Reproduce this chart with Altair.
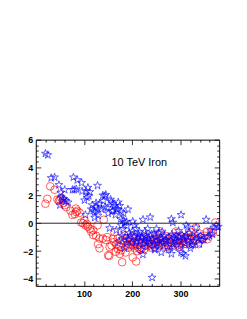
import altair as alt
import pandas as pd

# Blue stars
blue_x = [20, 25, 32, 39, 48, 60, 52, 53, 56, 50, 63, 67, 58,
          76, 80, 84, 78, 86, 95, 96, 104, 108, 112, 101, 106, 110, 128,
          115, 119, 122, 125, 129, 122, 129, 132, 125, 103, 117,
          139, 143, 145, 140, 136, 143, 155, 160, 163, 160, 167, 170, 174, 177, 191, 150, 158,
          181, 184, 188, 153, 167, 177, 181, 201, 205, 222, 237, 208, 215, 232, 250, 281, 284,
          301, 312, 315, 332, 353, 370, 374, 362,
          184, 222, 246, 260, 281, 301, 305, 310, 322, 339, 241,
          192, 196, 199, 203, 206, 210, 213, 216, 219, 222, 225, 228, 231, 234, 237, 240,
          243, 246, 249, 252, 255, 258, 261, 264, 267, 270, 273, 276, 279, 282, 285, 288,
          291, 294, 297, 300, 303, 306, 309, 312, 316, 320, 324, 328, 333, 337, 342, 348,
          356, 366, 200, 218, 226, 247, 262, 275, 296, 318, 185, 188, 178, 172,
          148, 156, 165, 171, 176, 182, 189, 194, 209, 214, 229, 236, 244, 253, 268, 287,
          307, 326, 344, 360, 378, 226, 257, 290]
blue_y = [5.0, 4.9, 3.25, 3.3, 2.75, 2.4, 2.2, 1.85, 1.65, 1.3, 1.6, 1.5, 1.75,
          2.4, 2.4, 2.45, 3.3, 3.1, 2.9, 2.3, 2.3, 2.55, 2.25, 1.65, 1.85, 1.95, 2.7,
          1.0, 0.9, 0.8, 1.15, 1.0, 0.4, 0.55, 1.4, 1.45, 0.6, 1.3,
          2.0, 1.95, 2.05, 1.6, 1.0, 1.15, 1.7, 1.4, 1.25, 0.9, 1.0, 1.0, 1.25, 0.8, 1.0, 0.7, 0.85,
          0.2, 0.05, 0.1, -0.35, -0.5, -0.15, -0.4, 0.12, -0.15, 0.26, 0.43, -0.4, -0.65, -0.4, -0.4, 0.3, 0.05,
          0.6, -0.15, -0.3, -0.3, 0.26, -0.3, -0.15, -0.5,
          -1.8, -2.25, -1.85, -2.1, -2.2, -2.1, -2.2, -2.35, -1.6, -1.5, -3.9,
          -1.2, -0.9, -1.4, -1.0, -1.6, -1.1, -0.8, -1.3, -1.0, -1.5, -1.2, -0.9, -1.7, -1.1, -1.35, -0.8,
          -1.2, -1.5, -1.0, -1.25, -0.7, -1.6, -1.1, -1.4, -0.9, -1.2, -1.7, -1.0, -1.3, -0.8, -1.5, -1.1,
          -0.9, -1.35, -1.0, -1.6, -0.85, -1.2, -1.45, -0.95, -1.25, -1.8, -1.0, -1.3, -0.8, -1.1, -0.9, -1.2,
          -1.0, -0.8, -0.6, -1.9, -0.6, -1.9, -0.6, -1.9, -0.55, -0.7, -1.0, -1.4, -0.9, -1.3,
          1.1, 1.55, 0.6, 1.5, 0.3, 0.7, -0.2, -0.7, -1.3, -0.95, -1.05, -1.55, -0.75, -1.45, -1.3, -1.75,
          -1.0, -1.55, -1.2, -0.9, -0.25, -1.35, -1.15, -1.25]

# Red circles
red_x = [20, 24, 30, 39, 45, 50, 53, 57, 60, 63, 48,
         72, 76, 81, 84, 83, 86, 91, 94, 98, 101, 103, 108, 112, 119, 119, 125, 132, 139, 128, 141,
         129, 132, 150, 152, 160, 163, 167, 153, 157, 170, 174, 177, 179, 184, 188, 201, 208, 188, 194,
         163, 215, 115, 106, 145, 148, 170, 172,
         196, 200, 204, 208, 212, 216, 220, 224, 228, 232, 236, 240, 244, 248, 252, 256, 260, 264,
         268, 272, 276, 280, 284, 288, 292, 296, 300, 304, 308, 312, 316, 320, 324, 328, 332, 337,
         342, 346, 350, 356, 363, 367, 372, 274, 298, 312, 185, 192, 198, 205, 225, 245, 258, 290,
         322, 340, 355,
         180, 190, 202, 210, 218, 230, 238, 250, 262, 270, 282, 294, 306, 318, 330, 210, 234, 254,
         278, 302, 326, 166, 176, 186]
red_y = [1.4, 1.75, 2.65, 2.4, 1.7, 1.7, 1.8, 1.45, 1.3, 1.15, 1.6,
         0.9, 0.6, 0.65, 0.8, 1.05, 0.9, 0.75, 0.05, 0.0, 0.2, -0.15, -0.25, -0.4, -0.5, -0.85, -0.9, -1.1, -1.1, -0.15, 0.25,
         -1.5, -1.8, -2.3, -2.35, -1.1, -1.35, -1.5, -1.7, -1.6, -1.85, -2.2, -1.95, -2.8, -0.9, -1.1, -2.45, -2.75, -1.6, -1.5,
         -0.65, -1.85, -0.6, -0.05, -1.2, -1.0, -1.1, -1.6,
         -1.2, -0.9, -1.4, -1.0, -1.7, -1.15, -1.45, -0.95, -1.6, -1.25, -1.0, -1.5, -1.2, -0.85, -1.35, -1.05, -1.55, -1.2,
         -0.9, -1.4, -1.1, -1.6, -1.25, -0.95, -1.45, -1.15, -0.9, -1.3, -1.05, -1.35, -0.85, -1.2, -0.95, -1.1, -0.3, -1.5,
         -1.0, -1.1, -0.9, -1.15, -0.65, -0.7, 0.05, -1.6, -1.7, -1.5, -1.3, -1.75, -1.55, -1.8, -1.85, -1.7, -0.7, -0.6,
         -0.65, -0.75, -0.6,
         -1.2, -1.25, -1.65, -1.35, -1.9, -1.15, -1.75, -1.3, -1.45, -1.7, -1.0, -1.6, -1.5, -1.05, -1.25, -2.0, -1.4, -1.65,
         -1.35, -1.45, -1.4, -2.05, -1.7, -2.1]

label_text = ["10 TeV Iron"]
label_x = [157]
label_y = [4.35]

x_major = [100, 200, 300]
y_major = [-4, -2, 0, 2, 4, 6]
x_all = [20 * i for i in range(1, 19)]
y_all = [round(-4.4 + 0.4 * i, 1) for i in range(0, 27)]

W, H = 185, 147.5
XD = [0, 380]
YD = [-4.5, 6]

blue = pd.DataFrame({"x": blue_x, "y": blue_y})
red = pd.DataFrame({"x": red_x, "y": red_y})
lab = pd.DataFrame({"x": label_x, "y": label_y, "t": label_text})
zero = pd.DataFrame({"y": [0]})

STAR = ("M0,-1L0.2245,-0.309L0.9511,-0.309L0.3633,0.118L0.5878,0.809L0,0.382"
        "L-0.5878,0.809L-0.3633,0.118L-0.9511,-0.309L-0.2245,-0.309Z")

FONT = "Liberation Sans"
xs = alt.Scale(domain=XD, nice=False, zero=False)
ys = alt.Scale(domain=YD, nice=False, zero=False)

x_tick_size = {"condition": {"test": "datum.value % 100 === 0", "value": 5}, "value": 2.5}
y_tick_size = {"condition": {"test": "abs(round(datum.value * 10)) % 20 === 0", "value": 5}, "value": 2.5}

ax_x_lab = alt.Axis(orient="bottom", values=x_major, ticks=False, domain=False, grid=False,
                    labelFont=FONT, labelFontWeight="bold", labelFontSize=9, labelPadding=4,
                    labelColor="black", title=None)
ax_y_lab = alt.Axis(orient="left", values=y_major, ticks=False, domain=False, grid=False,
                    labelFont=FONT, labelFontWeight="bold", labelFontSize=9, labelPadding=3,
                    labelColor="black", title=None)
ax_x_in1 = alt.Axis(orient="top", offset=-H, values=x_all, labels=False, domain=False, grid=False,
                    ticks=True, tickSize=x_tick_size, tickColor="black", tickWidth=0.8, title=None)
ax_y_in1 = alt.Axis(orient="right", offset=-W, values=y_all, labels=False, domain=False, grid=False,
                    ticks=True, tickSize=y_tick_size, tickColor="black", tickWidth=0.8, title=None)
ax_x_in2 = alt.Axis(orient="bottom", offset=-H, values=x_all, labels=False, domain=False, grid=False,
                    ticks=True, tickSize=x_tick_size, tickColor="black", tickWidth=0.8, title=None)
ax_y_in2 = alt.Axis(orient="left", offset=-W, values=y_all, labels=False, domain=False, grid=False,
                    ticks=True, tickSize=y_tick_size, tickColor="black", tickWidth=0.8, title=None)

red_layer = alt.Chart(red).mark_point(shape="circle", filled=False, size=60, color="#ff0000",
                                      strokeWidth=0.9, opacity=0.7).encode(
    x=alt.X("x:Q", scale=xs, axis=ax_x_lab),
    y=alt.Y("y:Q", scale=ys, axis=ax_y_lab),
)
blue_layer = alt.Chart(blue).mark_point(shape=STAR, filled=False, size=70, color="#0000ff",
                                        strokeWidth=0.9, opacity=0.7).encode(
    x=alt.X("x:Q", scale=xs, axis=ax_x_in1),
    y=alt.Y("y:Q", scale=ys, axis=ax_y_in1),
)
zero_layer = alt.Chart(zero).mark_rule(color="#222222", strokeWidth=1).encode(
    y=alt.Y("y:Q", scale=ys, axis=ax_y_in2),
)
zero_x_axis = alt.Chart(zero).mark_point(opacity=0).encode(
    x=alt.X("y:Q", scale=xs, axis=ax_x_in2),
)
text_layer = alt.Chart(lab).mark_text(align="left", baseline="middle", font=FONT, fontSize=11,
                                      color="black").encode(
    x=alt.X("x:Q", scale=xs, axis=None),
    y=alt.Y("y:Q", scale=ys, axis=None),
    text="t:N",
)

chart = alt.layer(red_layer, blue_layer, zero_layer, zero_x_axis, text_layer).resolve_axis(
    x="independent", y="independent"
).properties(
    width=W, height=H,
    autosize=alt.AutoSizeParams(type="none"),
    padding={"left": 28, "top": 131.5, "right": 20, "bottom": 20},
    background="white",
).configure_view(stroke="black", strokeWidth=1)

chart.save("out.html", embed_options={"renderer": "svg", "actions": False})
